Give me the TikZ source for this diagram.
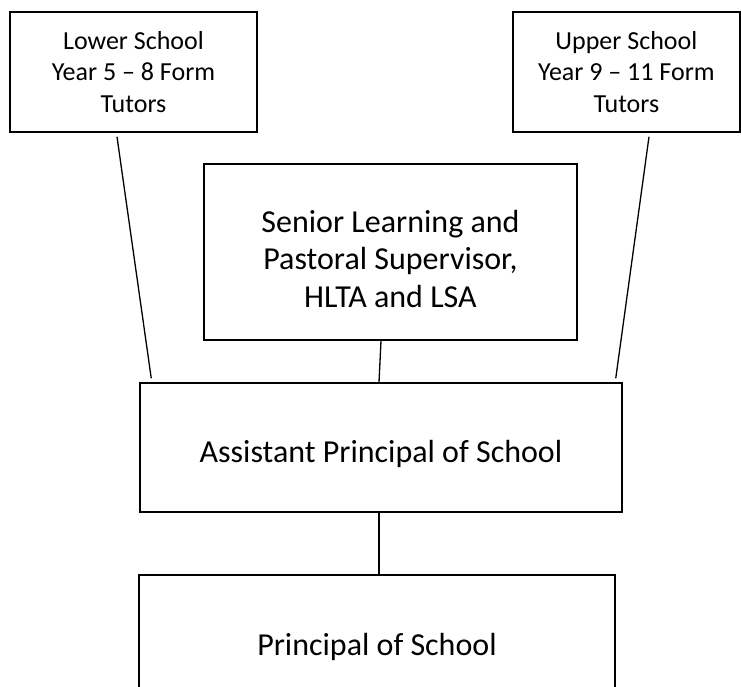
\documentclass[tikz,border=0pt]{standalone}
\usepackage{fontspec}
\setmainfont{Carlito}
\tikzset{
  orgbox/.style={draw=black, line width=1.5pt, inner sep=0pt, align=center, anchor=center},
  smalltext/.style={font=\fontsize{26}{31.5}\selectfont},
  bigtext/.style={font=\fontsize{32}{37.5}\selectfont, align=center},
  link/.style={draw=black, line width=1.3pt}
}
\begin{document}
\begin{tikzpicture}[x=1pt,y=-1pt]
\useasboundingbox (0,0) rectangle (741,686);
\clip (0,0) rectangle (741,686);
\node[orgbox, smalltext, minimum width=247pt, minimum height=120pt] (lower) at (133.5,72)
  {Lower School\\Year 5 – 8 Form\\Tutors};
\node[orgbox, smalltext, minimum width=227pt, minimum height=120pt] (upper) at (626.4,72)
  {Upper School\\Year 9 – 11 Form\\Tutors};
\node[orgbox, minimum width=373pt, minimum height=176pt,
  label={[bigtext, yshift=-7pt]center:{Senior Learning and\\Pastoral Supervisor,\\HLTA and LSA}}] (senior) at (390.5,252) {};
\node[orgbox, minimum width=482pt, minimum height=129pt,
  label={[bigtext, yshift=-6pt]center:{Assistant Principal of School}}] (assist) at (381,447.5) {};
\node[orgbox, minimum width=476pt, minimum height=134pt,
  label={[bigtext, yshift=-5pt]center:{Principal of School}}] (principal) at (377,642) {};
\draw[link] ([xshift=-16.5pt,yshift=-4pt]lower.south) -- ([xshift=12pt,yshift=4pt]assist.north west);
\draw[link] ([xshift=22.6pt,yshift=-4pt]upper.south) -- ([xshift=-7pt,yshift=4pt]assist.north east);
\draw[link] ([xshift=-9.5pt]senior.south) -- ([xshift=-2pt]assist.north);
\draw[link] ([xshift=-2pt]assist.south) -- ([xshift=2pt]principal.north);
\end{tikzpicture}
\end{document}
